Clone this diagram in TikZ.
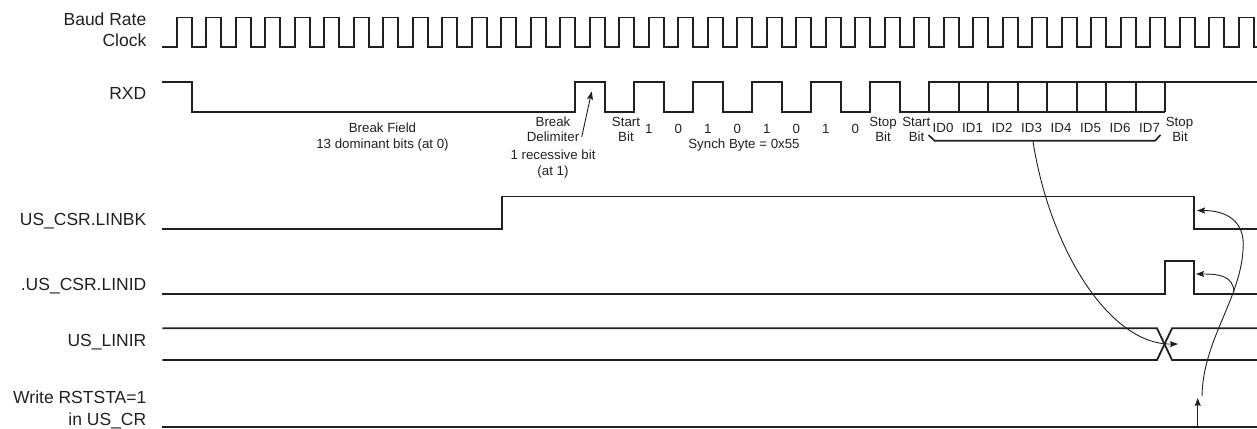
\documentclass[tikz,border=0pt]{standalone}
\usepackage{fontspec}
\setmainfont{Liberation Sans}
\usetikzlibrary{arrows.meta}
\definecolor{ink}{RGB}{35,31,32}
\tikzset{
  sig/.style={draw=ink, line width=1.8pt, line join=miter},
  thin/.style={draw=ink, line width=0.9pt},
  arr/.style={thin, -{Stealth[length=8pt,width=6pt,inset=1.2pt]}},
  biglbl/.style={text=ink, inner sep=0pt, anchor=base east, font=\fontsize{17.5}{20}\selectfont},
  smlbl/.style={text=ink, inner sep=0pt, anchor=base, font=\fontsize{13.3}{15}\selectfont},
}
\def\tz{191.6}
\def\T{29.5}
\begin{document}
\begin{tikzpicture}[x=1pt,y=-1pt]
\useasboundingbox (0,0) rectangle (1257,428);
% left labels
\node[biglbl] (lbaud) at (146.5,25.3) {Baud Rate};
\node[biglbl] (lclk) at (146.5,46.7) {Clock};
\node[biglbl] (lrxd) at (146.5,99.3) {RXD};
\node[biglbl] (llinbk) at (146.5,225) {US\_CSR.LINBK};
\node[biglbl] (llinid) at (146.5,290) {.US\_CSR.LINID};
\node[biglbl] (llinir) at (146.5,346.7) {US\_LINIR};
\node[biglbl] (lwr1) at (146.5,403.3) {Write RSTSTA=1};
\node[biglbl] (lwr2) at (146.5,425) {in US\_CR};
% clock
\draw[sig] (162.3,47) \foreach \k in {0,...,36} {
  -- ({\tz-14.75+\T*\k},47) -- ({\tz-14.75+\T*\k},17.5)
  -- ({\tz+\T*\k},17.5) -- ({\tz+\T*\k},47) } -- (1257,47);
% RXD
\draw[sig] (162.3,81.7) -- (\tz,81.7) -- (\tz,111.7)
  -- ({\tz+13*\T},111.7) -- ({\tz+13*\T},81.7) -- ({\tz+14*\T},81.7) -- ({\tz+14*\T},111.7)
  \foreach \k in {15,17,19,21} {
  -- ({\tz+\k*\T},111.7) -- ({\tz+\k*\T},81.7) -- ({\tz+(\k+1)*\T},81.7) -- ({\tz+(\k+1)*\T},111.7) }
  -- ({\tz+23*\T},111.7) -- ({\tz+23*\T},81.7) -- ({\tz+24*\T},81.7) -- ({\tz+24*\T},111.7)
  -- ({\tz+25*\T},111.7) -- ({\tz+25*\T},81.7) -- (1257,81.7);
\draw[sig] ({\tz+25*\T},111.7) -- ({\tz+33*\T},111.7);
\foreach \k in {26,...,33} { \draw[sig] ({\tz+\k*\T},81.7) -- ({\tz+\k*\T},111.7); }
% RXD labels
\node[smlbl] (bf1) at (382.5,132.7) {Break Field};
\node[smlbl] (bf2) at (382.5,148.3) {13 dominant bits (at 0)};
\node[smlbl] (bd1) at (553,126) {Break};
\node[smlbl] (bd2) at (553,141.7) {Delimiter};
\node[smlbl] (bd3) at (553,159.3) {1 recessive bit};
\node[smlbl] (bd4) at (553,175) {(at 1)};
\node[smlbl] (sb1) at (626,126) {Start};
\node[smlbl] (sb2) at (626,141.7) {Bit};
\foreach \k/\v in {15/1,16/0,17/1,18/0,19/1,20/0,21/1,22/0} {
  \node[smlbl] (d\k) at ({\tz+(\k+0.5)*\T},133) {\v};
}
\node[smlbl] (synch) at (744,148.3) {Synch Byte = 0x55};
\node[smlbl] (st1) at (883,126) {Stop};
\node[smlbl] (st2) at (883,141.7) {Bit};
\node[smlbl] (sa1) at (916.3,126) {Start};
\node[smlbl] (sa2) at (916.5,141.7) {Bit};
\foreach \k in {0,...,7} {
  \node[smlbl] (id\k) at ({\tz+(25.5+\k)*\T-0.8},132.7) {ID\k};
}
\node[smlbl] (sp1) at (1179.5,126) {Stop};
\node[smlbl] (sp2) at (1180,141.7) {Bit};
% brace
\draw[sig, line width=1.6pt] (928.5,135) -- (934.5,140.7) -- (1155,140.7) -- (1160.5,135);
\coordinate (bracetip) at (1033,141.5);
% delimiter arrow
\coordinate (delimtail) at (581.7,137);
\coordinate (delimtip) at (591.7,91.5);
\draw[arr] (delimtail) -- (delimtip);
% LINBK
\draw[sig] (162.3,229) -- (501.7,229) -- (501.7,196.5) -- (1194,196.5) -- (1194,229) -- (1257,229);
% LINID
\draw[sig] (162.3,294.3) -- (1165,294.3) -- (1165,260.7) -- (1194,260.7) -- (1194,294.3) -- (1257,294.3);
% LINIR
\draw[sig] (162.3,328.3) -- (1157,328.3) -- (1172,360) -- (1257,360);
\draw[sig] (162.3,360) -- (1157,360) -- (1172,328.3) -- (1257,328.3);
% RSTSTA
\draw[sig] (162.3,426.7) -- (1257,426.7);
% connectors
\coordinate (xtip) at (1178,344);
\draw[arr] (bracetip) .. controls (1050,250) and (1110,345) .. (xtip);
\coordinate (wrbase) at (1197.7,426);
\coordinate (wrtip) at (1197.7,398);
\draw[arr] (wrbase) -- (wrtip);
\coordinate (cstart) at (1202,396);
\coordinate (cmid) at (1243,250);
\coordinate (bktip) at (1197,210.5);
\draw[arr] (cstart) .. controls (1203,340) and (1240,300) .. (cmid) .. controls (1246,220) and (1225,210.5) .. (bktip);
\coordinate (branch) at (1234,292);
\coordinate (idtip) at (1196,274);
\draw[arr] (branch) .. controls (1233,276) and (1220,274) .. (idtip);
\end{tikzpicture}
\end{document}
